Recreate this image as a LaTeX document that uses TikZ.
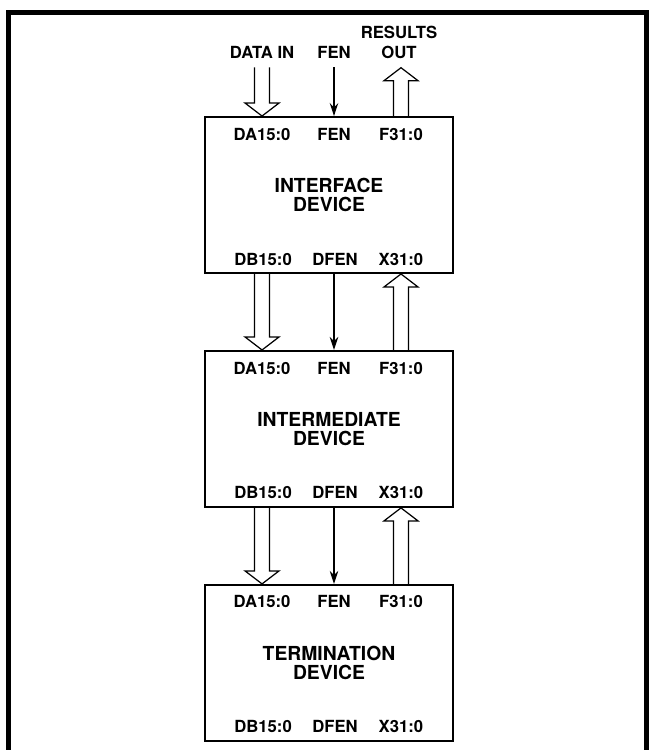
\documentclass[tikz,border=0pt]{standalone}
\usepackage{fontspec}
\setmainfont{TeX Gyre Heros}
\usetikzlibrary{arrows.meta,positioning,calc}
\newcommand{\portfont}{\fontsize{9.5}{11.4}\selectfont\bfseries}
% hollow bus arrows: #1 open end, #2 tip
\newcommand{\busdown}[2]{%
  \draw[bus] let \p1=(#1), \p2=(#2) in
    (\x1-0.15cm,\y1) -- (\x1-0.15cm,\y2+0.26cm) -- (\x1-0.34cm,\y2+0.26cm) -- (\x2,\y2)
    -- (\x1+0.34cm,\y2+0.26cm) -- (\x1+0.15cm,\y2+0.26cm) -- (\x1+0.15cm,\y1);}
\newcommand{\busup}[2]{%
  \draw[bus] let \p1=(#1), \p2=(#2) in
    (\x1-0.15cm,\y1) -- (\x1-0.15cm,\y2-0.26cm) -- (\x1-0.34cm,\y2-0.26cm) -- (\x2,\y2)
    -- (\x1+0.34cm,\y2-0.26cm) -- (\x1+0.15cm,\y2-0.26cm) -- (\x1+0.15cm,\y1);}

\begin{document}
\begin{tikzpicture}[node distance=1.52cm,>=Stealth,
  device/.style={draw,line width=1.1pt,minimum width=4.96cm,minimum height=3.12cm,
    align=center,inner sep=0pt,font=\fontsize{11}{10.8}\selectfont\bfseries},
  label2/.style={inner sep=0pt,align=center,font=\portfont},
  port/.style={inner sep=0pt,text height=6.9pt,text depth=0pt,font=\portfont},
  bus/.style={line width=0.7pt,line join=miter},
  ctrl/.style={-{Stealth[length=0.26cm,width=0.17cm]},line width=0.7pt}]
  \useasboundingbox (0,0) rectangle (12.98,-15);
  \draw[line width=0.1cm] (0.16,-15.2) |- (12.93,-0.25) -- (12.93,-15.2);

  \node[device] (iface) at (6.58,-3.9) {INTERFACE\\DEVICE};
  \node[device,below=of iface] (inter) {INTERMEDIATE\\DEVICE};
  \node[device,below=of inter] (term) {TERMINATION\\DEVICE};

  \foreach \d in {iface,inter,term} {
    \node[port] (\d-da) at ($(\d.north west)+(1.16,-0.36)$) {DA15:0};
    \node[port] (\d-fen) at ($(\d.north)+(0.1,-0.36)$) {FEN};
    \node[port] (\d-f) at ($(\d.north)+(1.44,-0.36)$) {F31:0};
    \node[port] (\d-db) at ($(\d.south west)+(1.18,0.3)$) {DB15:0};
    \node[port] (\d-dfen) at ($(\d.south)+(0.12,0.3)$) {DFEN};
    \node[port] (\d-x) at ($(\d.south)+(1.44,0.3)$) {X31:0};
  }

  \node[port] (datain) at ($(iface-da)+(0,1.64)$) {DATA IN};
  \node[port] (fenin) at ($(iface-fen)+(0,1.64)$) {FEN};
  \node[label2] (resout) at ($(iface-f)+(-0.04,1.84)$) {RESULTS\\OUT};

  \busdown{$(datain.south)+(0,-0.18)$}{iface-da |- iface.north}
  \draw[ctrl] ($(fenin.south)+(0,-0.18)$) -- (iface-fen |- iface.north);
  \busup{iface-f |- iface.north}{$(iface-f |- resout.south)+(0,-0.18)$}

  \busdown{inter-da |- iface.south}{inter-da |- inter.north}
  \draw[ctrl] (inter-fen |- iface.south) -- (inter-fen |- inter.north);
  \busup{iface-x |- inter.north}{iface-x |- iface.south}

  \busdown{term-da |- inter.south}{term-da |- term.north}
  \draw[ctrl] (term-fen |- inter.south) -- (term-fen |- term.north);
  \busup{inter-x |- term.north}{inter-x |- inter.south}
\end{tikzpicture}
\end{document}
